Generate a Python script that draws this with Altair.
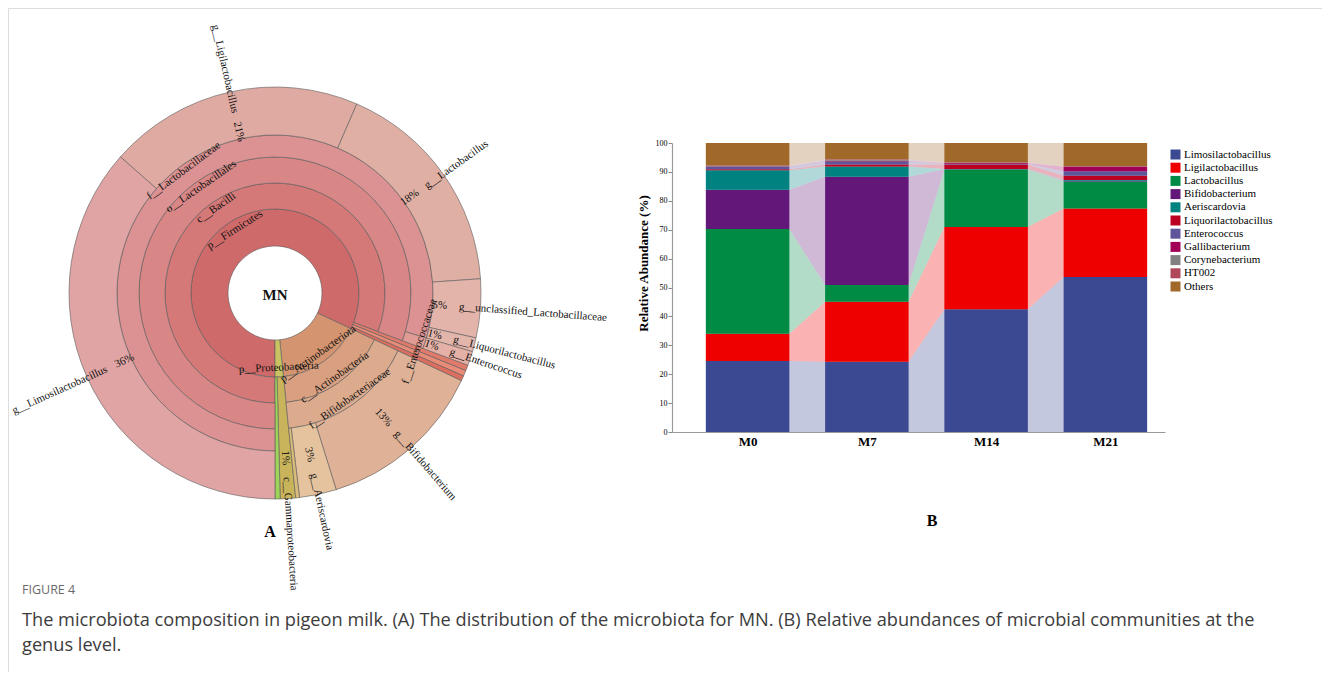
import altair as alt
import pandas as pd

# ---------------- Panel A : Krona-style sunburst (MN) ----------------
LEAF_LINEAGE = [
    ["p__Firmicutes", "c__Bacilli", "o__Lactobacillales", "f__Lactobacillaceae", "g__Limosilactobacillus"],
    ["p__Firmicutes", "c__Bacilli", "o__Lactobacillales", "f__Lactobacillaceae", "g__Ligilactobacillus"],
    ["p__Firmicutes", "c__Bacilli", "o__Lactobacillales", "f__Lactobacillaceae", "g__Lactobacillus"],
    ["p__Firmicutes", "c__Bacilli", "o__Lactobacillales", "f__Lactobacillaceae", "g__unclassified_Lactobacillaceae"],
    ["p__Firmicutes", "c__Bacilli", "o__Lactobacillales", "f__Lactobacillaceae", "g__Liquorilactobacillus"],
    ["p__Firmicutes", "c__Bacilli", "o__Lactobacillales", "f__Enterococcaceae", "g__Enterococcus"],
    ["p__Firmicutes", "c__minor1", "^", "^", "^"],
    ["p__Firmicutes", "c__minor2", "^", "^", "^"],
    ["p__Firmicutes", "c__minor3", "^", "^", "^"],
    ["p__Actinobacteriota", "c__Actinobacteria", "f__Bifidobacteriaceae", "g__Bifidobacterium", "^"],
    ["p__Actinobacteriota", "c__Actinobacteria", "f__Bifidobacteriaceae", "g__Aeriscardovia", "^"],
    ["p__Actinobacteriota", "c__Actinobacteria", "f__Bifidobacteriaceae", "g__minor_actino", "^"],
    ["p__Proteobacteria", "c__Gammaproteobacteria", "^", "^", "^"],
    ["p__Proteobacteria", "c__minor_proteo", "^", "^", "^"],
]
LEAF_SHARE = [36.5, 20.0, 17.4, 4.6, 1.1, 1.1, 0.45, 0.45, 0.4, 13.2, 2.9, 0.3, 1.2, 0.4]
LEAF_PCT_LABEL = ["36%", "21%", "18%", "5%", "1%", "1%", "", "", "", "13%", "3%", "", "1%", ""]
TANGENT_LABELS = ["p__Firmicutes", "c__Bacilli", "o__Lactobacillales", "f__Lactobacillaceae",
                  "f__Enterococcaceae", "p__Actinobacteriota", "c__Actinobacteria",
                  "f__Bifidobacteriaceae", "p__Proteobacteria"]
CENTER_LABEL = "MN"
PANEL_LABELS = ["A", "B"]

SUN_COLORS = {
    "p__Firmicutes": "#cf6a6a", "c__Bacilli": "#d47878", "o__Lactobacillales": "#d88686",
    "f__Lactobacillaceae": "#dc9292", "f__Enterococcaceae": "#e09c94",
    "g__Limosilactobacillus": "#e0a4a4", "g__Ligilactobacillus": "#dfaaa2",
    "g__Lactobacillus": "#dfafa3", "g__unclassified_Lactobacillaceae": "#e2b4aa",
    "g__Liquorilactobacillus": "#e3b6ac", "g__Enterococcus": "#e5b0a6",
    "c__minor1": "#e07a6a", "c__minor2": "#e88c78", "c__minor3": "#dc6e60",
    "p__Actinobacteriota": "#d49470", "c__Actinobacteria": "#d8a080",
    "f__Bifidobacteriaceae": "#dcab8e", "g__Bifidobacterium": "#dfb298",
    "g__Aeriscardovia": "#e4c39e", "g__minor_actino": "#d9bb7a",
    "p__Proteobacteria": "#c8c262", "c__Gammaproteobacteria": "#c9b45c",
    "c__minor_proteo": "#9ed45a",
}

# ---------------- Panel B : stacked relative abundance ----------------
SAMPLES = ["M0", "M7", "M14", "M21"]
GENERA = ["Limosilactobacillus", "Ligilactobacillus", "Lactobacillus", "Bifidobacterium",
          "Aeriscardovia", "Liquorilactobacillus", "Enterococcus", "Gallibacterium",
          "Corynebacterium", "HT002", "Others"]
ABUNDANCE = [
    [24.6, 24.3, 42.5, 53.6],   # Limosilactobacillus
    [9.4, 20.8, 28.4, 23.7],    # Ligilactobacillus
    [36.2, 5.8, 19.9, 9.4],     # Lactobacillus
    [13.6, 37.4, 0.1, 0.2],     # Bifidobacterium
    [6.8, 3.6, 0.1, 0.3],       # Aeriscardovia
    [0.3, 0.7, 1.6, 1.5],       # Liquorilactobacillus
    [0.8, 1.0, 0.2, 1.5],       # Enterococcus
    [0.2, 0.3, 0.3, 1.6],       # Gallibacterium
    [0.2, 0.3, 0.1, 0.1],       # Corynebacterium
    [0.2, 0.2, 0.1, 0.1],       # HT002
    [7.7, 5.6, 6.7, 8.0],       # Others
]
GENUS_COLORS = ["#3b4992", "#ee0000", "#008b45", "#631879", "#008280", "#bb0021",
                "#5f559b", "#a20056", "#808180", "#b0485a", "#a0692a"]
Y_TICKS = list(range(0, 101, 10))

CAPTION_TITLE = "FIGURE 4"
CAPTION_LINES = [
    "The microbiota composition in pigeon milk. (A) The distribution of the microbiota for MN. "
    "(B) Relative abundances of microbial communities at the",
    "genus level.",
]

SERIF = "Liberation Serif"
SANS = "Open Sans"
W, H = 1314, 664
CX, CY = 267, 285          # sunburst centre inside the view
BAR_FRAC = 0.70            # bar width as a fraction of category spacing

# ---- build sunburst segments ----
seg_rows = []
for L in range(5):
    cum = 0.0
    last_key = None
    for lin, share in zip(LEAF_LINEAGE, LEAF_SHARE):
        if lin[L] == "^":
            last_key = None
            cum += share
            continue
        out = L + 1
        while out < 5 and lin[out] == "^":
            out += 1
        key = tuple(lin[:L + 1])
        if key == last_key:
            seg_rows[-1]["t1"] += share
        else:
            seg_rows.append({"taxon": lin[L], "l0": L, "l1": out, "t0": cum, "t1": cum + share})
            last_key = key
        cum += share
segs = pd.DataFrame(seg_rows)


def theta_deg(p):
    return (180.0 + p * 3.6) % 360.0


tan_rows = []
for _, s in segs.iterrows():
    if s["taxon"] in TANGENT_LABELS:
        mid = (s["t0"] + s["t1"]) / 2
        th = theta_deg(mid)
        rot = th - 180 if 90 < th < 270 else th
        tan_rows.append({"text": s["taxon"], "mid": mid, "lvl": s["l0"] + 0.75, "rot": rot % 360})
tan_df = pd.DataFrame(tan_rows)

pct_rows, nameR_rows, nameL_rows = [], [], []
cum = 0.0
for lin, share, pct in zip(LEAF_LINEAGE, LEAF_SHARE, LEAF_PCT_LABEL):
    mid = cum + share / 2
    cum += share
    if not pct:
        continue
    name = [t for t in lin if t != "^"][-1]
    th = theta_deg(mid)
    if th < 180:
        rot = (th - 90) % 360
        nameR_rows.append({"text": name, "mid": mid, "lvl": 4.55, "rot": rot})
    else:
        rot = (th + 90) % 360
        nameL_rows.append({"text": name, "mid": mid, "lvl": 4.55, "rot": rot})
    pct_rows.append({"text": pct, "mid": mid, "lvl": 4.15, "rot": rot})

theta_scale = alt.Scale(domain=[0, 100], range=[3.14159265, 9.42477796])
radius_scale = alt.Scale(type="linear", domain=[0, 1, 2, 3, 4, 5], range=[47, 84, 110, 136, 158, 206])
sun_cscale = alt.Scale(domain=list(SUN_COLORS.keys()), range=list(SUN_COLORS.values()))

arcs = alt.Chart(segs).mark_arc(x=CX, y=CY, stroke="#5a5a5a", strokeWidth=0.6).encode(
    theta=alt.Theta("t0:Q", stack=False, scale=theta_scale),
    theta2="t1:Q",
    radius=alt.Radius("l1:Q", scale=radius_scale),
    radius2="l0:Q",
    color=alt.Color("taxon:N", scale=sun_cscale, legend=None),
)


def polar_text(df, align):
    return alt.Chart(df).mark_text(
        x=CX, y=CY, align=align, baseline="middle", font=SERIF, fontSize=11, color="#111"
    ).encode(
        theta=alt.Theta("mid:Q", stack=False, scale=theta_scale),
        radius=alt.Radius("lvl:Q", scale=radius_scale),
        angle=alt.Angle("rot:Q", scale=None),
        text="text:N",
    )


sun = alt.layer(
    arcs,
    polar_text(tan_df, "center"),
    polar_text(pd.DataFrame(pct_rows), "center"),
    polar_text(pd.DataFrame(nameR_rows), "left"),
    polar_text(pd.DataFrame(nameL_rows), "right"),
    alt.Chart(pd.DataFrame({"t": [CENTER_LABEL]})).mark_text(
        x=CX, y=CY + 2, font=SERIF, fontSize=15, fontWeight="bold", color="#111"
    ).encode(text="t:N"),
)

# ---- build stacked bars and connecting bands ----
bar_rows, band_rows = [], []
for i, smp in enumerate(SAMPLES):
    base = 0.0
    for g, vals in zip(GENERA, ABUNDANCE):
        v = vals[i]
        x0, x1 = i - BAR_FRAC / 2, i + BAR_FRAC / 2
        bar_rows.append({"sample": smp, "genus": g, "x0": x0, "x1": x1, "y0": base, "y1": base + v})
        for x in (x0, x1):
            band_rows.append({"genus": g, "x": x, "y0": base, "y1": base + v})
        base += v
bdf = pd.DataFrame(bar_rows)
adf = pd.DataFrame(band_rows)

xs = alt.Scale(domain=[-0.634, 3.50], range=[664, 1157], nice=False, zero=False)
ys = alt.Scale(domain=[0, 100], range=[424, 135], nice=False, zero=True)
cs = alt.Scale(domain=GENERA, range=GENUS_COLORS)
label_expr = "[" + ",".join("'%s'" % s for s in SAMPLES) + "][datum.value]"
x_axis = alt.Axis(values=list(range(len(SAMPLES))), labelExpr=label_expr, ticks=False, grid=False,
                  title=None, domainColor="#9a9a9a", domainWidth=1.2, labelFont=SERIF,
                  labelFontSize=13, labelFontWeight="bold", labelColor="#000", labelPadding=3,
                  offset=-240, zindex=1, labelFlush=False)
y_axis = alt.Axis(values=Y_TICKS, grid=False, tickSize=4, tickColor="#8a8a8a", domainColor="#9a9a9a",
                  domainWidth=1.2, labelFont=SERIF, labelFontSize=8, labelColor="#000", labelPadding=1,
                  title="Relative Abundance (%)", titleFont=SERIF, titleFontSize=13,
                  titleFontWeight="bold", titleColor="#000", titleAngle=270, titleX=-29, titleY=255,
                  titleAlign="center", titleBaseline="middle", offset=-664, zindex=1)
legend = alt.Legend(orient="none", legendX=1162, legendY=141, title=None, symbolType="square",
                    symbolSize=100, symbolStrokeWidth=0, symbolOpacity=1, labelFont=SERIF,
                    labelFontSize=11, labelColor="#000", rowPadding=1.2, labelOffset=3)

bands = alt.Chart(adf).mark_area(opacity=0.3, interpolate="linear").encode(
    x=alt.X("x:Q", scale=xs, axis=x_axis),
    y=alt.Y("y0:Q", scale=ys, axis=y_axis, stack=False),
    y2="y1:Q",
    color=alt.Color("genus:N", scale=cs, legend=legend),
    detail="genus:N",
)
bars = alt.Chart(bdf).mark_rect().encode(
    x=alt.X("x0:Q", scale=xs, axis=x_axis),
    x2="x1:Q",
    y=alt.Y("y0:Q", scale=ys, axis=y_axis, stack=False),
    y2="y1:Q",
    color=alt.Color("genus:N", scale=cs, legend=legend),
)
panel_b = alt.layer(bands, bars)

# ---- annotations ----
panel_a_lab = alt.Chart(pd.DataFrame({"t": [PANEL_LABELS[0]]})).mark_text(
    x=262, y=524, font=SERIF, fontSize=16, fontWeight="bold", color="#000").encode(text="t:N")
panel_b_lab = alt.Chart(pd.DataFrame({"t": [PANEL_LABELS[1]]})).mark_text(
    x=924, y=513, font=SERIF, fontSize=16, fontWeight="bold", color="#000").encode(text="t:N")
fig_lab = alt.Chart(pd.DataFrame({"t": [CAPTION_TITLE]})).mark_text(
    x=14, y=582, align="left", baseline="middle", font=SANS, fontSize=12.5, color="#6a6a6a"
).encode(text="t:N")
cap = alt.Chart(pd.DataFrame({"k": [0]})).mark_text(
    x=14, y=613, align="left", baseline="middle", font=SANS, fontSize=18.2, color="#3c3c3c",
    lineHeight=25
).encode(text=alt.value(CAPTION_LINES))

chart = alt.layer(sun, panel_b, panel_a_lab, panel_b_lab, fig_lab, cap).resolve_scale(
    color="independent"
).properties(width=W, height=H, padding=0).configure_view(
    stroke="#b4b4b4", strokeWidth=1.5
).configure(background="white")

chart.save("out.html", embed_options={"renderer": "svg", "actions": False})
